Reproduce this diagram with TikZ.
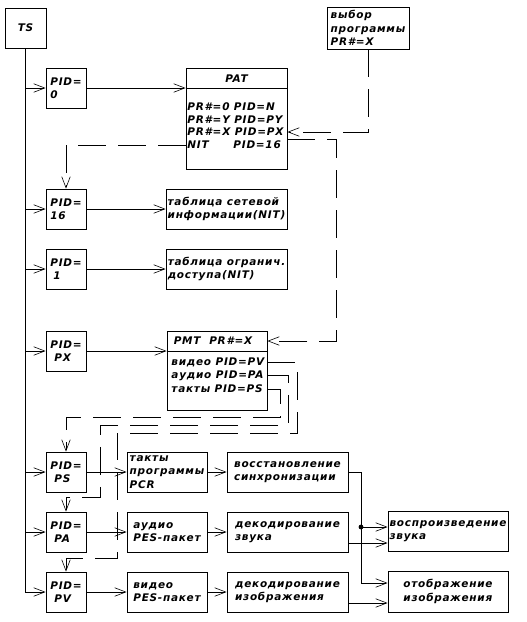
\documentclass[tikz,border=0pt]{standalone}
\usepackage{fontspec}
\setmainfont{DejaVu Sans}[LetterSpace=7]
\usetikzlibrary{arrows.meta}
\begin{document}
\begin{tikzpicture}[x=1pt,y=-1pt,line width=0.9pt,
  every node/.style={font=\fontsize{10.5}{13.3}\selectfont\bfseries\itshape},
  box/.style={draw,line width=0.9pt,inner sep=1pt,align=left},
  pidbox/.style={box,minimum width=40pt,minimum height=40pt},
  tbox/.style={box,minimum width=121pt,minimum height=40pt},
  sbox/.style={box,minimum width=80pt,minimum height=40pt},
  obox/.style={box,minimum width=120pt,minimum height=40pt},
  row/.style={anchor=west,inner sep=0pt},
  arr/.style={-{Straight Barb[length=11pt,width=8.5pt,line width=0.6pt]}},
  dsh/.style={dash pattern=on 28pt off 12pt}]
\useasboundingbox (0,0) rectangle (527,622);
% left column
\node[box,minimum width=41pt,minimum height=40pt] (ts) at (25.5,28) {TS};
\node[pidbox] (pid0) at (66,88) {PID=\\0};
\node[pidbox] (pid16) at (66,209) {PID=\\16};
\node[pidbox] (pid1) at (66,269) {PID=\\\hspace{3pt}1};
\node[pidbox] (pidpx) at (66,351) {PID=\\\hspace{4pt}PX};
\node[pidbox] (pidps) at (66,472) {PID=\\\hspace{4pt}PS};
\node[pidbox] (pidpa) at (66,532) {PID=\\\hspace{4pt}PA};
\node[pidbox] (pidpv) at (66,592) {PID=\\\hspace{4pt}PV};
% PAT
\node[box,minimum width=101pt,minimum height=101pt] (pat) at (236.5,118.5) {};
\draw (pat.west |- 0,88) -- (pat.east |- 0,88);
\node (patt) at (236.5,79) {PAT};
\node[row] (patr1) at (187,107) {PR\#=0 PID=N};
\node[row] (patr2) at (187,119.5) {PR\#=Y PID=PY};
\node[row] (patr3) at (187,132) {PR\#=X PID=PX};
\node[row] (patr4) at (187,145) {NIT};
\node[row] (patr4b) at (233,145) {PID=16};
% program choice
\node[box,minimum width=82pt,minimum height=42pt] (choice) at (368,28) {выбор\\программы\\PR\#=X};
% tables
\node[tbox] (nit) at (226.5,209) {таблица сетевой\\информации(NIT)};
\node[tbox] (ca) at (226.5,269) {таблица огранич.\\доступа(NIT)};
% PMT
\node[box,minimum width=100pt,minimum height=79pt] (pmt) at (217,370.5) {};
\draw (pmt.west |- 0,351) -- (pmt.east |- 0,351);
\node (pmth) at (213,341) {PMT\ \ PR\#=X};
\node[row] (pmtr1) at (171,362) {видео PID=PV};
\node[row] (pmtr2) at (171,375.5) {аудио PID=PA};
\node[row] (pmtr3) at (171,389) {такты PID=PS};
% lower rows
\node[sbox] (pcr) at (167,472) {такты\\программы\\PCR};
\node[tbox] (sync) at (287.5,472) {восстановление\\синхронизации};
\node[sbox] (apes) at (167,532) {аудио\\PES-пакет};
\node[tbox] (deca) at (287.5,532) {декодирование\\звука};
\node[sbox] (vpes) at (167,592) {видео\\PES-пакет};
\node[tbox] (decv) at (287.5,592) {декодирование\\изображения};
\node[obox] (play) at (448,531) {воспроизведение\\звука};
\node[obox,minimum height=41pt] (disp) at (448,591.5) {отображение\\изображения};
% trunk
\draw[arr] (ts.south) |- (pidpv.west);
\foreach \n in {pid0,pid16,pid1,pidpx,pidps,pidpa}
  \draw[arr] (ts.south |- \n.west) -- (\n.west);
% solid arrows
\draw[arr] (pid0.east) -- (pat.west |- pid0.east);
\draw[arr] (pid16.east) -- (nit.west);
\draw[arr] (pid1.east) -- (ca.west);
\draw[arr] (pidpx.east) -- (pmt.west |- pidpx.east);
\draw[arr] (pidps.east) -- (pcr.west);
\draw[arr] (pcr.east) -- (sync.west);
\draw[arr] (pidpa.east) -- (apes.west);
\draw[arr] (apes.east) -- (deca.west);
\draw[arr] (pidpv.east) -- (vpes.west);
\draw[arr] (vpes.east) -- (decv.west);
% dashed links
\draw[dsh,arr] (choice.south) |- (pat.east |- patr3);
\coordinate (pxout) at (pat.east |- 0,139);
\draw[dsh,arr] (pxout) -- ++(49,0) |- (pmt.east |- pmth);
\draw[dsh,arr] (pat.west |- patr4) -| (pid16.north);
\draw[dsh,arr] (pmt.east |- pmtr3) -| (280,417) -| (pidps.north);
\draw[dsh,arr] (pmt.east |- pmtr2) -| (288,425) -| (100,497) -| (pidpa.north);
\draw[dsh,arr] (pmt.east |- pmtr1) -| (297,433) -| (117,558) -| (pidpv.north);
% outputs
\coordinate (jn) at (361,527);
\draw[arr] (sync.east) -- ++(13,0) |- ([yshift=8.5pt]disp.west);
\fill (jn) circle (2.4pt);
\draw[arr] (jn) -- ([yshift=4pt]play.west);
\draw[arr] ([yshift=-11pt]deca.east) -- ([yshift=-12pt]play.west);
\draw[arr] ([yshift=-11pt]decv.east) -- ([yshift=-11.5pt]disp.west);
\end{tikzpicture}
\end{document}
